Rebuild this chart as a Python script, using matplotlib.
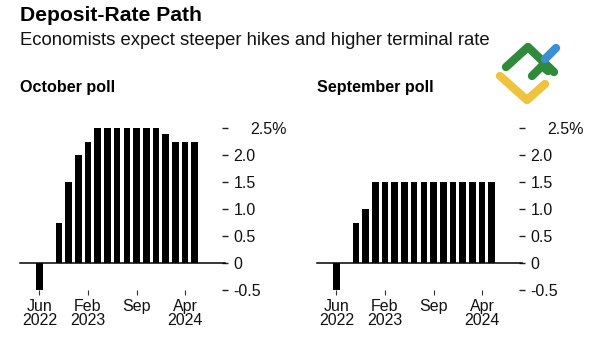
import numpy as np
import matplotlib
matplotlib.use("Agg")
import matplotlib.pyplot as plt
from matplotlib.lines import Line2D
from matplotlib.transforms import ScaledTranslation

plt.rcParams['font.family'] = ['Liberation Sans', 'DejaVu Sans']

# ECB meeting slots, Jun 2022 .. mid 2024
slots = np.arange(17)
october = [-0.5, 0, 0.75, 1.5, 2.0, 2.25, 2.5, 2.5, 2.5, 2.5, 2.5, 2.5, 2.5, 2.4, 2.25, 2.25, 2.25]
september = [-0.5, 0, 0.75, 1.0, 1.5, 1.5, 1.5, 1.5, 1.5, 1.5, 1.5, 1.5, 1.5, 1.5, 1.5, 1.5, 1.5]
xtick_pos = [0, 5, 10, 15]
xtick_labels = ['Jun\n2022', 'Feb\n2023', 'Sep', 'Apr\n2024']
ytick_pos = [-0.5, 0, 0.5, 1.0, 1.5, 2.0, 2.5]
ytick_labels = ['-0.5', '0', '0.5', '1.0', '1.5', '2.0', '2.5%']

W, H = 599, 340
fig = plt.figure(figsize=(W / 100, H / 100), dpi=100)

fig.text(20 / W, 1 - 21 / H, 'Deposit-Rate Path', fontsize=15.2, fontweight='bold',
         va='baseline', ha='left')
fig.text(20 / W, 1 - 45 / H, 'Economists expect steeper hikes and higher terminal rate',
         fontsize=13.3, va='baseline', ha='left', color='#111111')

panels = [('October poll', october, 20), ('September poll', september, 317)]
for title, vals, left in panels:
    ax = fig.add_axes([left / W, 0.147, 201 / W, 0.492])
    ax.bar(slots, vals, width=0.68, color='black')
    ax.axhline(0, color='black', lw=1.1, clip_on=False, xmax=1.02)
    ax.set_xlim(-2, 18.7)
    ax.set_ylim(-0.5, 2.6)
    for s in ax.spines.values():
        s.set_visible(False)
    ax.spines['right'].set_position(('outward', 1))
    ax.yaxis.tick_right()
    ax.set_yticks(ytick_pos)
    ax.set_yticklabels(ytick_labels)
    ax.tick_params(axis='y', length=4.5, width=1, color='#222222', pad=3.5,
                   labelsize=11.5, labelcolor='#111111')
    lbl = ax.get_yticklabels()[-1]
    lbl.set_transform(lbl.get_transform() + ScaledTranslation(0.17, 0, fig.dpi_scale_trans))
    ax.set_xticks(xtick_pos)
    ax.set_xticklabels(xtick_labels, linespacing=0.95)
    ax.tick_params(axis='x', length=3.5, width=0.8, color='#333333', pad=3,
                   labelsize=11.5, labelcolor='#111111')
    fig.text(left / W, 1 - 92.5 / H, title, fontsize=11.6, fontweight='bold',
             va='baseline', ha='left')

# watermark logo
def px(points):
    xs = [p[0] / W for p in points]
    ys = [1 - p[1] / H for p in points]
    return xs, ys

logo = [
    ([(500, 76), (527, 100), (545, 84)], '#f0c33c'),
    ([(506, 67), (528, 47), (554, 72)], '#2e8b3a'),
    ([(532, 76), (542, 66), (548, 71)], '#2e8b3a'),
    ([(545, 59), (556, 48)], '#3a8fd9'),
]
for pts, c in logo:
    xs, ys = px(pts)
    fig.add_artist(Line2D(xs, ys, transform=fig.transFigure, color=c, lw=6,
                          solid_capstyle='round', solid_joinstyle='round'))

fig.savefig('out.png', dpi=100)
